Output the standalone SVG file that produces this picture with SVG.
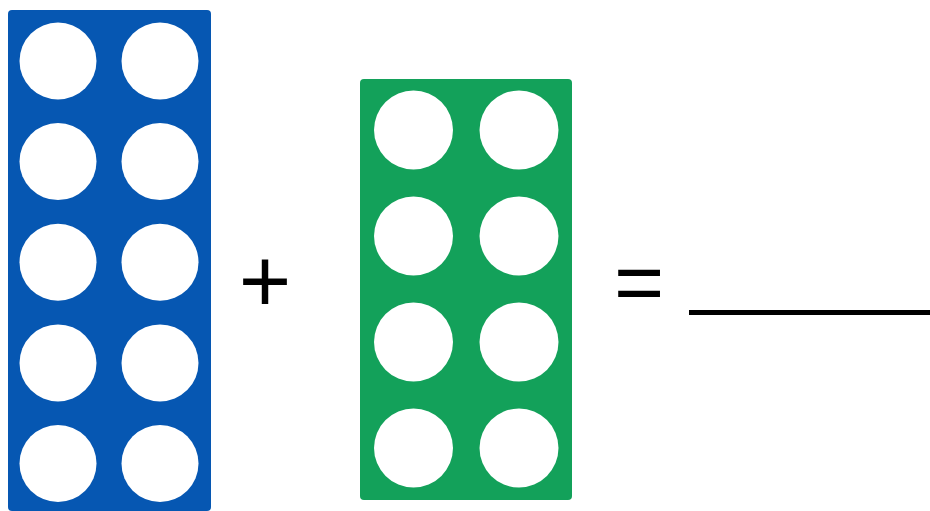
<svg xmlns="http://www.w3.org/2000/svg" width="930" height="511" viewBox="0 0 930 511">
<style>
.hole{fill:#ffffff}
.op{font-family:"Liberation Sans",Arial,sans-serif;fill:#000;text-anchor:middle}
</style>
<rect width="930" height="511" fill="#ffffff"/>
<g id="blue-ten">
<rect x="8" y="10" width="203" height="501" rx="4" fill="#0657b2"/>
<circle class="hole" cx="58" cy="61" r="38.5"/><circle class="hole" cx="160" cy="61" r="38.5"/>
<circle class="hole" cx="58" cy="161.6" r="38.5"/><circle class="hole" cx="160" cy="161.6" r="38.5"/>
<circle class="hole" cx="58" cy="262.3" r="38.5"/><circle class="hole" cx="160" cy="262.3" r="38.5"/>
<circle class="hole" cx="58" cy="362.9" r="38.5"/><circle class="hole" cx="160" cy="362.9" r="38.5"/>
<circle class="hole" cx="58" cy="463.5" r="38.5"/><circle class="hole" cx="160" cy="463.5" r="38.5"/>
</g>
<g id="plus"><text class="op" x="265" y="312" font-size="90">+</text></g>
<g id="green-eight">
<rect x="360" y="79" width="212" height="421" rx="4" fill="#13a15a"/>
<circle class="hole" cx="413.5" cy="130" r="39.5"/><circle class="hole" cx="519" cy="130" r="39.5"/>
<circle class="hole" cx="413.5" cy="236" r="39.5"/><circle class="hole" cx="519" cy="236" r="39.5"/>
<circle class="hole" cx="413.5" cy="342" r="39.5"/><circle class="hole" cx="519" cy="342" r="39.5"/>
<circle class="hole" cx="413.5" cy="448" r="39.5"/><circle class="hole" cx="519" cy="448" r="39.5"/>
</g>
<g id="equals"><text class="op" x="639" y="311" font-size="86">=</text></g>
<g id="answer-line"><line x1="689" y1="312.5" x2="930" y2="312.5" stroke="#000" stroke-width="5"/></g>
</svg>
